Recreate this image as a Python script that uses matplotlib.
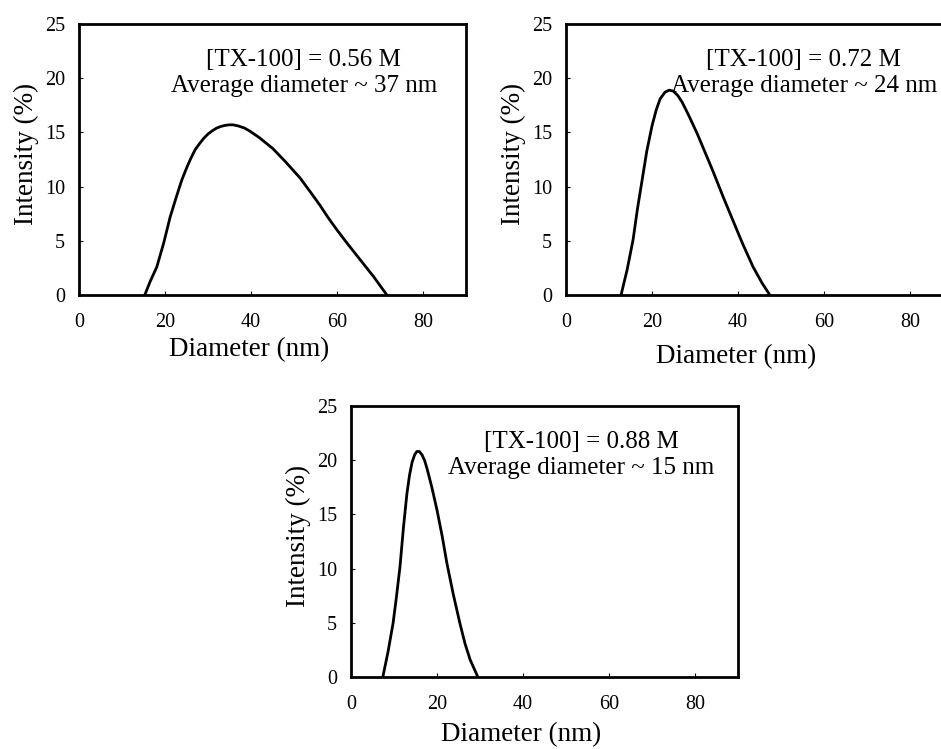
import matplotlib
matplotlib.use("Agg")
import matplotlib.pyplot as plt

plt.rcParams['font.family'] = ['Liberation Serif', 'DejaVu Serif']

# diameter (nm) / intensity (%)
d_056 = [15.3, 16.5, 18.1, 19.7, 21.2, 22.6, 23.9, 25.0, 26.0, 27.0, 28.1,
         29.0, 30.0, 31.0, 32.0, 33.0, 34.0, 35.0, 35.8, 37.0, 38.5, 39.8,
         42.0, 45.1, 48.0, 51.4, 54.0, 56.0, 58.0, 60.0, 62.5, 65.3, 68.5,
         71.6]
i_056 = [0.0, 1.2, 2.6, 4.8, 7.2, 9.0, 10.6, 11.7, 12.6, 13.4, 14.0,
         14.45, 14.85, 15.15, 15.4, 15.55, 15.65, 15.7, 15.7, 15.6, 15.4, 15.1,
         14.5, 13.5, 12.3, 10.8, 9.4, 8.3, 7.1, 6.0, 4.7, 3.3, 1.7,
         0.0]

d_072 = [12.8, 14.2, 15.6, 16.6, 17.7, 18.8, 20.0, 21.0, 21.9, 23.0, 24.0,
         25.0, 26.0, 27.0, 28.5, 30.5, 32.3, 34.2, 36.5, 38.8, 41.0, 43.5,
         45.6, 47.4]
i_072 = [0.0, 2.3, 5.1, 7.9, 10.6, 13.3, 15.6, 17.1, 18.1, 18.7, 18.9,
         18.8, 18.4, 17.8, 16.6, 14.9, 13.2, 11.4, 9.1, 6.9, 4.8, 2.6,
         1.1, 0.0]

d_088 = [7.4, 8.6, 9.8, 10.6, 11.4, 12.2, 13.0, 13.6, 14.2, 14.8, 15.3,
         15.9, 16.5, 17.1, 17.7, 18.8, 20.0, 21.2, 22.3, 23.8, 25.3, 26.5,
         27.7, 29.5]
i_088 = [0.0, 2.3, 5.0, 7.5, 10.2, 13.8, 16.9, 18.6, 19.8, 20.5, 20.8,
         20.8, 20.5, 20.0, 19.2, 17.5, 15.4, 13.0, 10.5, 7.6, 5.0, 3.1,
         1.6, 0.0]

conc = ['0.56', '0.72', '0.88']
avg_d = ['37', '24', '15']
xticks = [0, 20, 40, 60, 80]
yticks = [0, 5, 10, 15, 20, 25]

W, H = 941, 749


def panel(fig, left, top, xs, ys, c, a, xlab_y, text_x):
    ax = fig.add_axes([left / W, (H - top - 271) / H, 387 / W, 271 / H])
    ax.plot(xs, ys, color='black', lw=2)
    ax.set_xlim(0, 90)
    ax.set_ylim(0, 25)
    ax.set_xticks(xticks)
    ax.set_yticks(yticks)
    ax.tick_params(direction='in', length=3, labelsize=14.5)
    ax.tick_params(axis='x', pad=13)
    ax.tick_params(axis='y', pad=10)
    for s in ax.spines.values():
        s.set_linewidth(2)
    ax.set_xlabel('Diameter (nm)', fontsize=19.5, va='center')
    ax.set_ylabel('Intensity (%)', fontsize=19.5, va='center')
    ax.xaxis.set_label_coords(0.44, xlab_y)
    ax.yaxis.set_label_coords(-0.135, 0.52)
    ax.text(text_x, 21.7, '[TX-100] = %s M' % c, fontsize=18,
            ha='center', va='center')
    ax.text(text_x, 19.3, 'Average diameter ~ %s nm' % a, fontsize=18,
            ha='center', va='center')
    return ax


fig = plt.figure(figsize=(W / 100, H / 100), dpi=100)
panel(fig, 79, 24, d_056, i_056, conc[0], avg_d[0], -0.2, 52.3)
panel(fig, 566, 24, d_072, i_072, conc[1], avg_d[1], -0.228, 55.3)
panel(fig, 351, 406, d_088, i_088, conc[2], avg_d[2], -0.214, 53.5)

fig.savefig('out.png', dpi=100)
